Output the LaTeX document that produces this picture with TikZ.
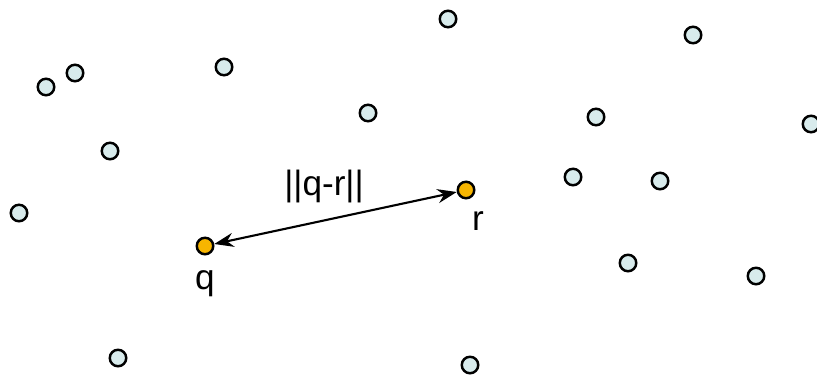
\documentclass[tikz,border=0pt]{standalone}
\usepackage{fontspec}
\setmainfont{Liberation Sans}
\usetikzlibrary{arrows.meta,positioning}
\definecolor{PointFill}{HTML}{D8EBEC}
\definecolor{QueryFill}{HTML}{F7B500}

\begin{document}
\begin{tikzpicture}[x=0.02cm, y=-0.02cm,
    pt/.style={draw, circle, line width=1.4pt, fill=PointFill, minimum size=0.33cm, inner sep=0pt},
    qpt/.style={pt, fill=QueryFill},
    lbl/.style={font=\fontsize{20}{24}\selectfont, inner sep=0pt},
    arr/.style={{Stealth[length=11pt,width=8pt]}-{Stealth[length=11pt,width=8pt]}, line width=1.2pt}]

\useasboundingbox (0,0) rectangle (817,375);

% data points
\foreach \n/\x/\y in {1/448/19, 2/693/35, 3/46/87, 4/75/73, 5/224/67, 6/368/113,
    7/596/117, 8/811/124, 9/110/151, 10/573/177, 11/660/181, 12/19/213,
    13/628/263, 14/756/276, 15/118/358, 16/470/365}
  \node[pt] (p\n) at (\x,\y) {};

% query point and its neighbour
\node[qpt] (q) at (205,246) {};
\node[qpt] (r) at (466,190) {};

% labels
\node[lbl, below=0.3cm of q] (qlbl) {q};
\node[lbl, below right=0.3cm and -0.02cm of r] (rlbl) {r};
\node[lbl] (dist) at (324,186) {||q-r||};

% distance
\draw[arr] (q) -- (r);
\end{tikzpicture}
\end{document}
